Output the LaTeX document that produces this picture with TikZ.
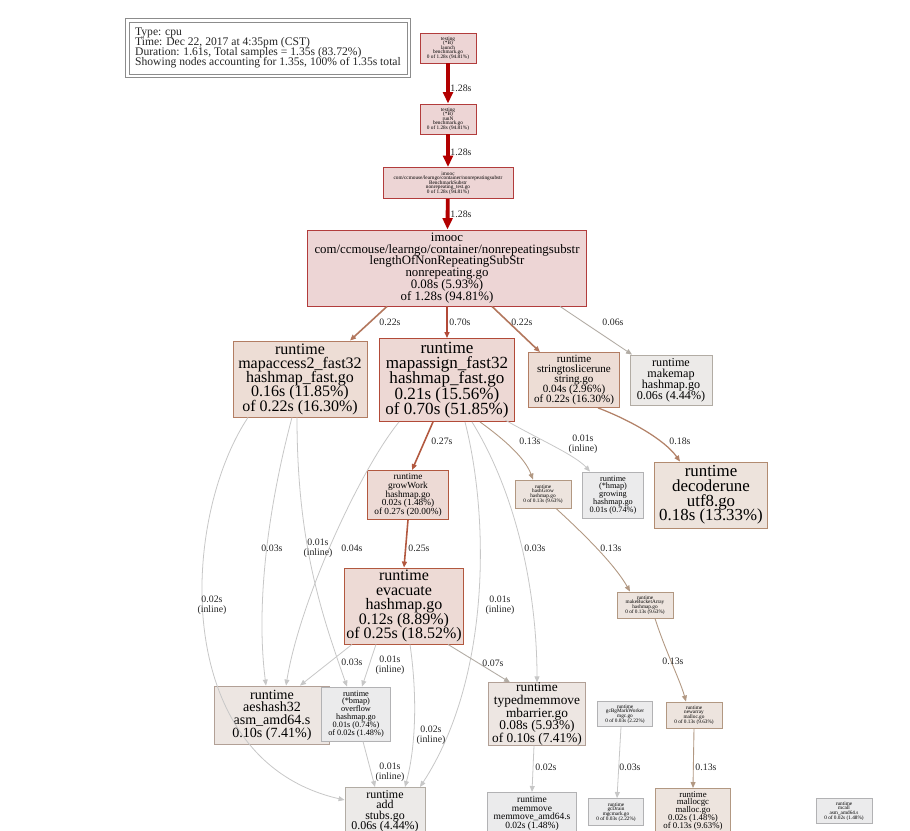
\documentclass[tikz,border=0pt]{standalone}
\usepackage{fontspec}
\setmainfont{Liberation Serif}
\usetikzlibrary{arrows.meta,calc}

\definecolor{hotred}{HTML}{B20000}
\definecolor{pinkfill}{HTML}{EDD5D5}
\definecolor{pinkline}{HTML}{B23C3C}
\definecolor{salmonfill}{HTML}{EDD8D4}
\definecolor{salmonline}{HTML}{B24A38}
\definecolor{tanfill}{HTML}{EDDDD5}
\definecolor{tanline}{HTML}{B27D63}
\definecolor{rustfill}{HTML}{EDDAD5}
\definecolor{rustline}{HTML}{B2583F}
\definecolor{sandfill}{HTML}{EDE3DC}
\definecolor{sandline}{HTML}{B28B70}
\definecolor{beigefill}{HTML}{EDE4DE}
\definecolor{beigeline}{HTML}{B29882}
\definecolor{palefill}{HTML}{EDE6E2}
\definecolor{paleline}{HTML}{B2A096}
\definecolor{stonefill}{HTML}{ECEAE8}
\definecolor{stoneline}{HTML}{B2ACA4}
\definecolor{greyfill}{HTML}{EBEBEC}
\definecolor{greyline}{HTML}{B2B2B4}

\newcommand\tightlines{\lineskiplimit=-20pt\relax\lineskip=0pt\relax}

\begin{document}
\begin{tikzpicture}[x=0.02cm,y=-0.02cm,
  pnode/.style={draw,align=center,inner sep=0pt,line width=0.5pt},
  sz/.style 2 args={minimum width=#1*0.02cm,minimum height=#2*0.02cm},
  fn/.style 2 args={font=\fontsize{#1}{#2}\selectfont\tightlines},
  tint/.style 2 args={fill=#1,draw=#2},
  cutoff/.style={anchor=north,inner ysep=#1*0.02cm},
  lab/.style={font=\fontsize{5.6}{5.6}\selectfont,text=black!85,align=center,inner sep=0pt},
  tip/.style={-{Triangle[length=3.4pt,width=2.8pt]}},
  hot/.style={draw=hotred,line width=2.2pt,-{Triangle[length=6.5pt,width=5.5pt]}},
  warm/.style={draw=#1,line width=0.9pt,tip},
  cool/.style={draw=#1,line width=0.5pt,tip},
  faint/.style={draw=black!22,line width=0.45pt,tip}]
\useasboundingbox[fill=white] (0,0) rectangle (910,831);

% legend
\node[draw=black!45,line width=0.5pt,align=left,sz={278}{52},inner sep=0pt,fn={6.6}{5.6},text=black!85] (legend) at (268,48)
  {Type: cpu\\Time: Dec 22, 2017 at 4:35pm (CST)\\Duration: 1.61s, Total samples = 1.35s (83.72\%)\\Showing nodes accounting for 1.35s, 100\% of 1.35s total};
\draw[black!45,line width=0.5pt] ($(legend.south west)+(-3,3)$) rectangle ($(legend.north east)+(3,-3)$);

% call chain
\node[pnode,tint={pinkfill}{pinkline},sz={56}{30},fn={3.0}{2.6}] (launch) at (448,48)
  {testing\\(*B)\\launch\\benchmark.go\\0 of 1.28s (94.81\%)};
\node[pnode,tint={pinkfill}{pinkline},sz={56}{30},fn={3.0}{2.6}] (runN) at (448,119)
  {testing\\(*B)\\runN\\benchmark.go\\0 of 1.28s (94.81\%)};
\node[pnode,tint={pinkfill}{pinkline},sz={130}{31},fn={3.0}{2.6}] (bench) at (448,183)
  {imooc\\com/ccmouse/learngo/container/nonrepeatingsubstr\\BenchmarkSubstr\\nonrepeating\_test.go\\0 of 1.28s (94.81\%)};
\node[pnode,tint={pinkfill}{pinkline},sz={279}{76},fn={7.3}{6.7}] (lengthsub) at (447,268)
  {imooc\\com/ccmouse/learngo/container/nonrepeatingsubstr\\lengthOfNonRepeatingSubStr\\nonrepeating.go\\0.08s (5.93\%)\\of 1.28s (94.81\%)};

% runtime nodes
\node[pnode,tint={tanfill}{tanline},sz={134}{76},fn={9.1}{8.1}] (mapaccess) at (300,379)
  {runtime\\mapaccess2\_fast32\\hashmap\_fast.go\\0.16s (11.85\%)\\of 0.22s (16.30\%)};
\node[pnode,tint={salmonfill}{salmonline},sz={135}{83},fn={9.7}{8.7}] (mapassign) at (447,380)
  {runtime\\mapassign\_fast32\\hashmap\_fast.go\\0.21s (15.56\%)\\of 0.70s (51.85\%)};
\node[pnode,tint={tanfill}{tanline},sz={91}{55},fn={6.3}{5.6}] (slicerune) at (574,380)
  {runtime\\stringtoslicerune\\string.go\\0.04s (2.96\%)\\of 0.22s (16.30\%)};
\node[pnode,tint={stonefill}{stoneline},sz={82}{50},fn={6.9}{6.2}] (makemap) at (671,380)
  {runtime\\makemap\\hashmap.go\\0.06s (4.44\%)};
\node[pnode,tint={rustfill}{rustline},sz={81}{49},fn={5.3}{4.9}] (growwork) at (408,495)
  {runtime\\growWork\\hashmap.go\\0.02s (1.48\%)\\of 0.27s (20.00\%)};
\node[pnode,tint={beigefill}{beigeline},sz={56}{28},fn={3.0}{2.6}] (hashgrow) at (543,494)
  {runtime\\hashGrow\\hashmap.go\\0 of 0.13s (9.63\%)};
\node[pnode,tint={greyfill}{greyline},sz={61}{46},fn={4.7}{4.5}] (growing) at (613,495)
  {runtime\\(*hmap)\\growing\\hashmap.go\\0.01s (0.74\%)};
\node[pnode,tint={sandfill}{sandline},sz={113}{66},fn={9.6}{8.4}] (decoderune) at (711,495)
  {runtime\\decoderune\\utf8.go\\0.18s (13.33\%)};
\node[pnode,tint={rustfill}{rustline},sz={119}{76},fn={9.1}{8.3}] (evacuate) at (404,606)
  {runtime\\evacuate\\hashmap.go\\0.12s (8.89\%)\\of 0.25s (18.52\%)};
\node[pnode,tint={beigefill}{beigeline},sz={56}{26},fn={3.0}{2.6}] (bucketarray) at (645,605)
  {runtime\\makeBucketArray\\hashmap.go\\0 of 0.13s (9.63\%)};
\node[pnode,tint={palefill}{paleline},sz={115}{58},fn={8.0}{7.2}] (aeshash) at (272,715)
  {runtime\\aeshash32\\asm\_amd64.s\\0.10s (7.41\%)};
\node[pnode,tint={greyfill}{greyline},sz={69}{54},fn={4.7}{4.5}] (overflow) at (356,714)
  {runtime\\(*bmap)\\overflow\\hashmap.go\\0.01s (0.74\%)\\of 0.02s (1.48\%)};
\node[pnode,tint={palefill}{paleline},sz={97}{62},fn={7.6}{7.2}] (typedmove) at (537,714)
  {runtime\\typedmemmove\\mbarrier.go\\0.08s (5.93\%)\\of 0.10s (7.41\%)};
\node[pnode,tint={greyfill}{greyline},sz={55}{25},fn={3.0}{2.6}] (markworker) at (625,714)
  {runtime\\gcBgMarkWorker\\mgc.go\\0 of 0.03s (2.22\%)};
\node[pnode,tint={beigefill}{beigeline},sz={56}{26},fn={3.0}{2.6}] (newarray) at (694,715)
  {runtime\\newarray\\malloc.go\\0 of 0.13s (9.63\%)};
\node[pnode,tint={stonefill}{stoneline},minimum width=80*0.02cm,cutoff=3,fn={6.8}{6.0}] (addfn) at (385,787)
  {runtime\\add\\stubs.go\\0.06s (4.44\%)};
\node[pnode,tint={greyfill}{greyline},minimum width=89*0.02cm,cutoff=4,fn={5.4}{4.9}] (memmove) at (532,792)
  {runtime\\memmove\\memmove\_amd64.s\\0.02s (1.48\%)};
\node[pnode,tint={greyfill}{greyline},sz={55}{27},fn={3.0}{2.6}] (gcdrain) at (616,812)
  {runtime\\gcDrain\\mgcmark.go\\0 of 0.03s (2.22\%)};
\node[pnode,tint={beigefill}{beigeline},minimum width=75*0.02cm,cutoff=3,fn={5.0}{4.4}] (mallocgc) at (693,788)
  {runtime\\mallocgc\\malloc.go\\0.02s (1.48\%)\\of 0.13s (9.63\%)};
\node[pnode,tint={greyfill}{greyline},sz={56}{25},fn={3.0}{2.6}] (mcall) at (844,811)
  {runtime\\mcall\\asm\_amd64.s\\0 of 0.02s (1.48\%)};

% hot path
\draw[hot] (launch) -- (runN) node[lab] at (461,88) {1.28s};
\draw[hot] (runN) -- (bench) node[lab] at (461,152) {1.28s};
\draw[hot] (bench) -- (lengthsub) node[lab] at (461,214) {1.28s};

% edges out of lengthOfNonRepeatingSubStr
\draw[warm=salmonline,line width=1.4pt] (lengthsub.south) -- (mapassign.north) node[lab] at (460,322) {0.70s};
\draw[warm={tanline!80!rustline}] ($(lengthsub.south)+(-60,0)$) -- ($(mapaccess.north)+(50,0)$) node[lab] at (390,322) {0.22s};
\draw[warm={tanline!80!rustline}] ($(lengthsub.south)+(45,0)$) -- ($(slicerune.north)+(-34,0)$) node[lab] at (522,322) {0.22s};
\draw[cool=stoneline] ($(lengthsub.south)+(113,0)$) -- ($(makemap.north)+(-39,0)$) node[lab] at (613,322) {0.06s};

% edges out of mapassign_fast32
\draw[warm=rustline] ($(mapassign.south)+(-14,0)$) -- ($(growwork.north)+(4,0)$) node[lab] at (442,441) {0.27s};
\draw[cool=beigeline] ($(mapassign.south)+(33,0)$) .. controls (505,440) and (525,458) .. ($(hashgrow.north)+(-10,0)$) node[lab] at (530,441) {0.13s};
\draw[faint] ($(mapassign.south)+(58,-2)$) .. controls (540,440) and (575,455) .. ($(growing.north)+(-23,0)$) node[lab] at (583,444) {0.01s\\(inline)};
\draw[faint] ($(mapassign.south)+(-48,0)$) .. controls (360,470) and (300,600) .. ($(aeshash.north)+(14,0)$) node[lab] at (352,548) {0.04s};
\draw[faint] ($(mapassign.south)+(18,0)$) .. controls (490,520) and (490,680) .. ($(addfn.north)+(35,0)$) node[lab] at (500,605) {0.01s\\(inline)};
\draw[faint] ($(mapassign.south)+(25,0)$) .. controls (520,500) and (537,600) .. (typedmove.north) node[lab] at (535,548) {0.03s};

% edges out of mapaccess2_fast32
\draw[faint] ($(mapaccess.south)+(-8,0)$) .. controls (270,500) and (255,600) .. ($(aeshash.north)+(-6,0)$) node[lab] at (272,548) {0.03s};
\draw[faint] ($(mapaccess.south)+(-3,0)$) .. controls (297,540) and (320,610) .. ($(overflow.north)+(-9,0)$) node[lab] at (318,548) {0.01s\\(inline)};
\draw[faint] ($(mapaccess.south)+(-52,0)$) .. controls (180,520) and (170,760) .. ($(addfn.north west)+(0,13)$) node[lab] at (212,605) {0.02s\\(inline)};

% other edges
\draw[warm={tanline!70!sandline},line width=0.7pt] ($(slicerune.south)+(24,0)$) .. controls (630,420) and (665,440) .. ($(decoderune.north)+(-31,0)$) node[lab] at (680,441) {0.18s};
\draw[warm=rustline] (growwork.south) -- (evacuate.north) node[lab] at (419,548) {0.25s};
\draw[cool=beigeline] ($(hashgrow.south)+(13,0)$) .. controls (585,535) and (615,565) .. ($(bucketarray.north)+(-15,0)$) node[lab] at (611,548) {0.13s};
\draw[cool=beigeline] ($(bucketarray.south)+(10,0)$) .. controls (665,650) and (680,680) .. ($(newarray.north)+(-8,0)$) node[lab] at (673,661) {0.13s};
\draw[cool=beigeline] (newarray.south) -- (mallocgc.north) node[lab] at (706,767) {0.13s};
\draw[faint] ($(markworker.south)+(-4,0)$) -- ($(gcdrain.north)+(1,0)$) node[lab] at (630,767) {0.03s};

% edges out of evacuate
\draw[faint] ($(evacuate.south)+(-52,0)$) -- ($(aeshash.north)+(28,0)$) node[lab] at (352,662) {0.03s};
\draw[faint] ($(evacuate.south)+(-28,0)$) -- ($(overflow.north)+(6,0)$) node[lab] at (390,665) {0.01s\\(inline)};
\draw[faint] ($(evacuate.south)+(6,0)$) .. controls (418,700) and (415,750) .. ($(addfn.north)+(20,0)$) node[lab] at (431,735) {0.02s\\(inline)};
\draw[cool=stoneline] ($(evacuate.south)+(44,0)$) -- ($(typedmove.north)+(-27,0)$) node[lab] at (493,663) {0.07s};
\draw[faint] ($(overflow.south)+(7,0)$) -- ($(addfn.north)+(-10,0)$) node[lab] at (390,772) {0.01s\\(inline)};
\draw[faint] ($(typedmove.south)+(-3,0)$) -- (memmove.north) node[lab] at (546,767) {0.02s};
\end{tikzpicture}
\end{document}
